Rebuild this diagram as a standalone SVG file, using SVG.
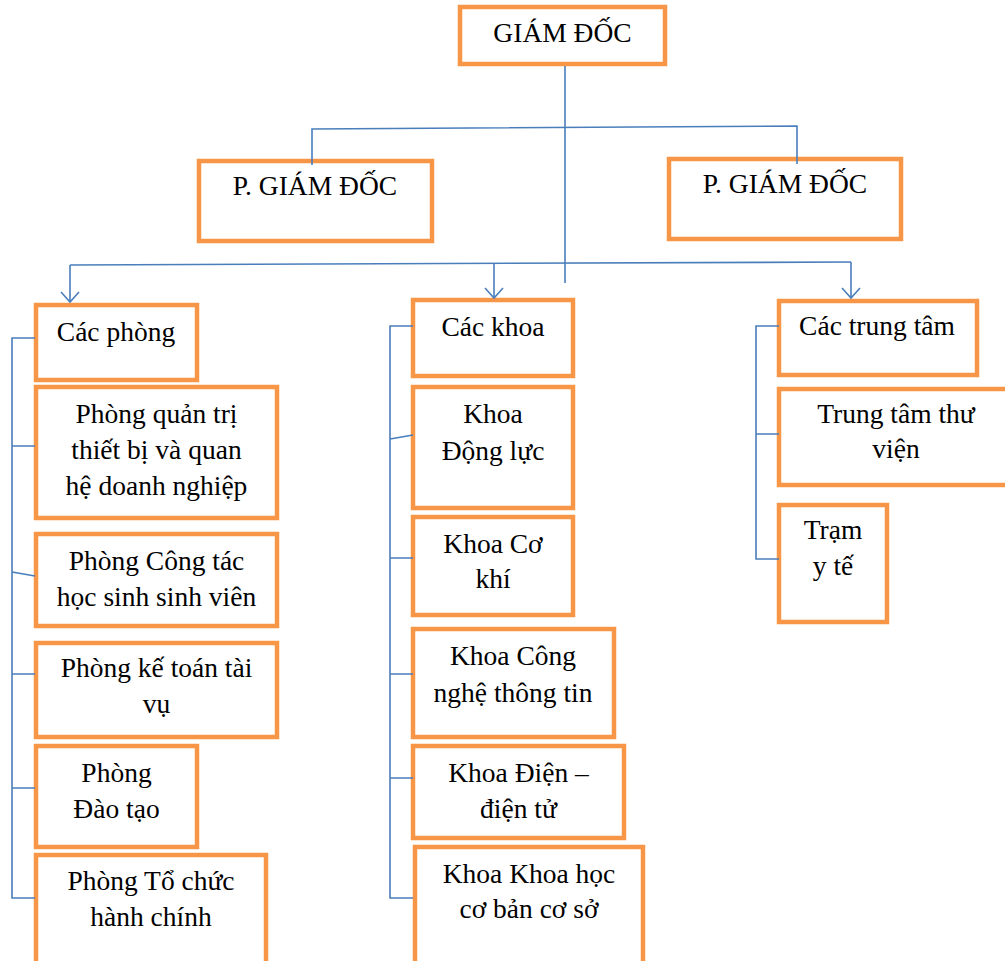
<svg xmlns="http://www.w3.org/2000/svg" width="1005" height="961" viewBox="0 0 1005 961">
<style>
.box{fill:#ffffff;stroke:#F79646;stroke-width:4.5}
.t{font-family:"Liberation Serif","Times New Roman",serif;font-size:27.5px;fill:#000;text-anchor:middle}
.c{fill:none;stroke:#4A7EBB;stroke-width:1.6}
</style>
<defs>
<marker id="arr" markerUnits="userSpaceOnUse" markerWidth="24" markerHeight="24" viewBox="-12 -12 24 24" refX="0" refY="0" orient="auto" overflow="visible">
<path d="M-10,-9 L0,0 L-10,9" fill="none" stroke="#4A7EBB" stroke-width="1.6"/>
</marker>
</defs>
<rect width="1005" height="961" fill="#ffffff"/>
<g id="giam-doc"><rect class="box" x="460" y="7" width="205" height="57"/><text class="t" x="562.5" y="42">GIÁM ĐỐC</text></g>
<g id="pgd-1"><rect class="box" x="199" y="161" width="233" height="80"/><text class="t" x="315" y="195">P. GIÁM ĐỐC</text></g>
<g id="pgd-2"><rect class="box" x="669" y="159" width="232" height="80"/><text class="t" x="785" y="193">P. GIÁM ĐỐC</text></g>
<g id="cac-phong"><rect class="box" x="36" y="305" width="161" height="75"/><text class="t" x="116" y="341">Các phòng</text></g>
<g id="phong-qtri"><rect class="box" x="36" y="387" width="241" height="131"/><text class="t"><tspan x="156.5" y="423">Phòng quản trị</tspan><tspan x="156.5" y="459">thiết bị và quan</tspan><tspan x="156.5" y="495">hệ doanh nghiệp</tspan></text></g>
<g id="phong-ctac"><rect class="box" x="36" y="534" width="241" height="92"/><text class="t"><tspan x="156.5" y="570">Phòng Công tác</tspan><tspan x="156.5" y="606">học sinh sinh viên</tspan></text></g>
<g id="phong-ketoan"><rect class="box" x="36" y="643" width="241" height="94"/><text class="t"><tspan x="156.5" y="677">Phòng kế toán tài</tspan><tspan x="156.5" y="713">vụ</tspan></text></g>
<g id="phong-daotao"><rect class="box" x="36" y="746" width="161" height="101"/><text class="t"><tspan x="116.5" y="782">Phòng</tspan><tspan x="116.5" y="818">Đào tạo</tspan></text></g>
<g id="phong-tochuc"><rect class="box" x="36" y="855" width="230" height="130"/><text class="t"><tspan x="151" y="890">Phòng Tổ chức</tspan><tspan x="151" y="926">hành chính</tspan></text></g>
<g id="cac-khoa"><rect class="box" x="413" y="300" width="160" height="76"/><text class="t" x="493" y="336">Các khoa</text></g>
<g id="khoa-dongluc"><rect class="box" x="413" y="387" width="160" height="121"/><text class="t"><tspan x="493" y="423">Khoa</tspan><tspan x="493" y="460">Động lực</tspan></text></g>
<g id="khoa-cokhi"><rect class="box" x="413" y="517" width="160" height="98"/><text class="t"><tspan x="493" y="553">Khoa Cơ</tspan><tspan x="493" y="588">khí</tspan></text></g>
<g id="khoa-cntt"><rect class="box" x="413" y="629" width="201" height="108"/><text class="t"><tspan x="513" y="665">Khoa Công</tspan><tspan x="513" y="702">nghệ thông tin</tspan></text></g>
<g id="khoa-dien"><rect class="box" x="413" y="746" width="211" height="92"/><text class="t"><tspan x="518.5" y="782">Khoa Điện –</tspan><tspan x="518.5" y="818">điện tử</tspan></text></g>
<g id="khoa-khcb"><rect class="box" x="415" y="847" width="228" height="140"/><text class="t"><tspan x="529" y="883">Khoa Khoa học</tspan><tspan x="529" y="918">cơ bản cơ sở</tspan></text></g>
<g id="cac-trungtam"><rect class="box" x="779" y="301" width="198" height="74"/><text class="t" x="877" y="335">Các trung tâm</text></g>
<g id="tt-thuvien"><rect class="box" x="779" y="389" width="236" height="96"/><text class="t"><tspan x="896" y="423">Trung tâm thư</tspan><tspan x="896" y="458">viện</tspan></text></g>
<g id="tram-yte"><rect class="box" x="779" y="505" width="108" height="117"/><text class="t"><tspan x="833" y="539">Trạm</tspan><tspan x="833" y="575">y tế</tspan></text></g>
<g id="connectors">
<path class="c" d="M565,66 L565,283"/>
<path class="c" d="M312,165 L312,129 L797,126 L797,164"/>
<path class="c" d="M70,265 L851,262"/>
<path class="c" d="M70,265 L70,302" marker-end="url(#arr)"/>
<path class="c" d="M494,264 L494,298" marker-end="url(#arr)"/>
<path class="c" d="M851,262 L851,298" marker-end="url(#arr)"/>
<path class="c" d="M35,338 L12,338 L12,898 L35,898 M12,446 L35,446 M12,572 L35,576 M12,674 L35,674 M12,788 L35,788"/>
<path class="c" d="M413,326 L390,326 L390,898 L413,898 M390,439 L413,435 M390,558 L413,558 M390,674 L413,674 M390,778 L413,778"/>
<path class="c" d="M779,326 L756,326 L756,559 L779,559 M756,434 L779,434"/>
</g>
</svg>
